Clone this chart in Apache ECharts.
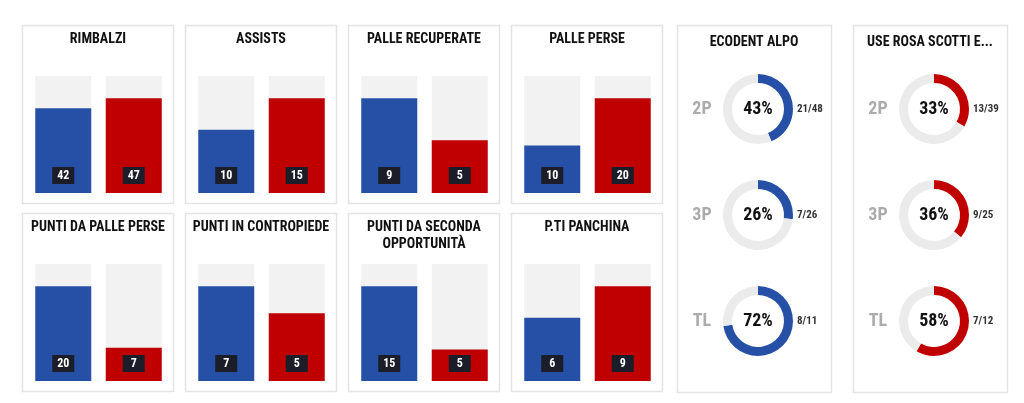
<!DOCTYPE html>
<html>
<head>
<meta charset="utf-8">
<script src="https://cdn.jsdelivr.net/npm/echarts@6/dist/echarts.min.js"></script>
<style>
  html, body { margin: 0; padding: 0; background: #fff; }
  #chart { width: 1024px; height: 403px; }
</style>
</head>
<body>
<div id="chart"></div>
<script>
const statTitles = ['RIMBALZI', 'ASSISTS', 'PALLE RECUPERATE', 'PALLE PERSE',
  'PUNTI DA PALLE PERSE', 'PUNTI IN CONTROPIEDE', 'PUNTI DA SECONDA\nOPPORTUNITÀ', 'P.TI PANCHINA'];
const homeStats = [42, 10, 9, 10, 20, 7, 15, 6];
const awayStats = [47, 15, 5, 20, 7, 5, 5, 9];

const teams = ['ECODENT ALPO', 'USE ROSA SCOTTI E...'];
const shotTypes = ['2P', '3P', 'TL'];
const homeMade = [21, 7, 8];
const homeAtt = [48, 26, 11];
const awayMade = [13, 9, 7];
const awayAtt = [39, 25, 12];

const BLUE = '#2650a6';
const RED = '#c00000';
const FONT = "'Roboto Condensed', 'Liberation Sans Narrow', 'DejaVu Sans Condensed', Roboto, sans-serif";

const chart = echarts.init(document.getElementById('chart'));

const grids = [], xAxes = [], yAxes = [], series = [], titles = [], graphics = [];

// pannelli barre
statTitles.forEach((name, i) => {
  const col = i % 4, row = Math.floor(i / 4);
  const pl = 22 + col * 163;
  const pt = row === 0 ? 25 : 213;
  graphics.push({
    type: 'rect', z: -10,
    shape: { x: pl + 0.5, y: pt + 0.5, width: 151, height: 178 },
    style: { fill: '#fff', stroke: '#e4e4e4', lineWidth: 1.5 }
  });
  const lines = name.split('\n').length;
  titles.push({
    text: name,
    left: pl + 76, top: (row === 0 ? 39 : 227 + (lines - 1) * 8.5) - lines * 8.5,
    textAlign: 'center', padding: 0,
    textStyle: { fontFamily: FONT, fontSize: 14, fontWeight: 'bold', color: '#111', lineHeight: 17 }
  });
  grids.push({ left: pl + 6, top: pt + 51, width: 141, height: 117 });
  xAxes.push({ type: 'category', gridIndex: i, data: ['home', 'away'], show: false });
  yAxes.push({ type: 'value', gridIndex: i, min: 0, max: Math.max(homeStats[i], awayStats[i]) / 0.81, show: false });
  series.push({
    type: 'bar', xAxisIndex: i, yAxisIndex: i, barWidth: 56, silent: true,
    showBackground: true, backgroundStyle: { color: '#f2f2f2' },
    data: [
      { value: homeStats[i], itemStyle: { color: BLUE } },
      { value: awayStats[i], itemStyle: { color: RED } }
    ],
    label: {
      show: true, position: 'insideBottom', distance: 9,
      backgroundColor: '#1b1d29', color: '#fff', fontFamily: FONT,
      fontSize: 12, fontWeight: 'bold', width: 12, height: 11, lineHeight: 11,
      align: 'center', padding: [3, 5]
    }
  });
});

// pannelli tiri
teams.forEach((team, t) => {
  const pl = t === 0 ? 677 : 853;
  const made = t === 0 ? homeMade : awayMade;
  const att = t === 0 ? homeAtt : awayAtt;
  const color = t === 0 ? BLUE : RED;
  const cx = pl + 81;
  graphics.push({
    type: 'rect', z: -10,
    shape: { x: pl + 0.5, y: 25.5, width: 154, height: 367 },
    style: { fill: '#fff', stroke: '#e4e4e4', lineWidth: 1.5 }
  });
  titles.push({
    text: team, left: pl + 77, top: 35, textAlign: 'center', padding: 0,
    textStyle: { fontFamily: FONT, fontSize: 14, fontWeight: 'bold', color: '#111' }
  });
  shotTypes.forEach((st, k) => {
    const cy = 109 + k * 106;
    titles.push({
      text: st, left: pl + 25, top: cy - 9, textAlign: 'center', padding: 0,
      textStyle: { fontFamily: FONT, fontSize: 18, fontWeight: 'bold', color: '#ababab' }
    });
    titles.push({
      text: made[k] + '/' + att[k], left: cx + 39, top: cy - 5.5, padding: 0,
      textStyle: { fontFamily: FONT, fontSize: 11, fontWeight: 'bold', color: '#333' }
    });
    series.push({
      type: 'pie', radius: [26, 35], center: [cx, cy], startAngle: 90, clockwise: true,
      silent: true, animation: false,
      label: { show: false, position: 'center' },
      labelLine: { show: false },
      emphasis: { disabled: true },
      data: [
        {
          value: made[k], itemStyle: { color: color },
          label: {
            show: true, position: 'center',
            formatter: Math.floor(made[k] / att[k] * 100) + '%',
            fontFamily: FONT, fontSize: 18, fontWeight: 'bold', color: '#111'
          }
        },
        { value: att[k] - made[k], itemStyle: { color: '#ebebeb' } }
      ]
    });
  });
});

chart.setOption({
  animation: false,
  title: titles,
  graphic: graphics,
  grid: grids,
  xAxis: xAxes,
  yAxis: yAxes,
  series: series
});
</script>
</body>
</html>
